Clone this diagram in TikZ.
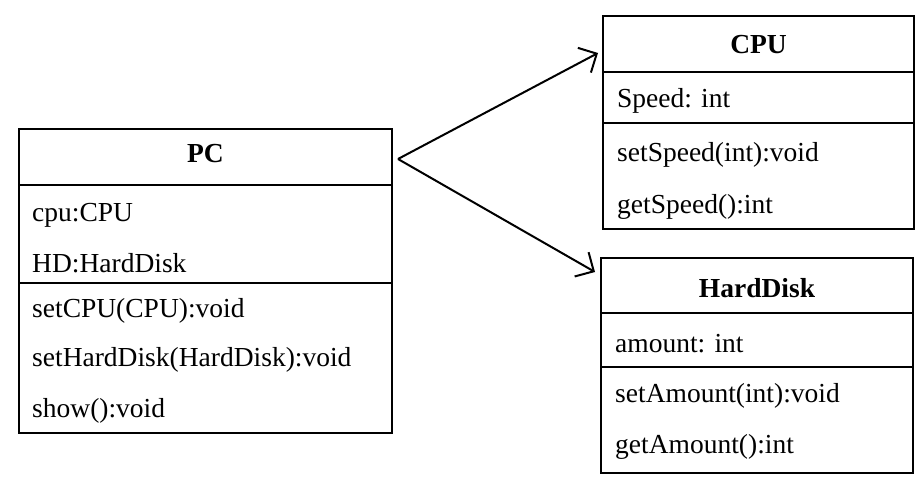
\documentclass[tikz,border=0pt]{standalone}
\usepackage{fontspec}
\setmainfont{Liberation Serif}
\usetikzlibrary{arrows.meta}
\begin{document}
\begin{tikzpicture}[x=1pt,y=-1pt,
  box/.style={draw=black,line width=2.8pt},
  sep/.style={draw=black,line width=2.8pt},
  title/.style={font=\fontsize{27.5}{32}\selectfont\bfseries,inner sep=0pt},
  item/.style={font=\fontsize{27.5}{32}\selectfont,anchor=west,inner sep=0pt,yshift=-3pt},
  arr/.style={draw=black,line width=2pt,-{Straight Barb[length=14pt,width=28pt,line width=2pt]}}]
\useasboundingbox (0,0) rectangle (921,479);
% PC
\draw[box] (19,129) rectangle (392,433);
\draw[sep] (19,185) -- (392,185);
\draw[sep] (19,283) -- (392,283);
\node[title] (pc) at (205.5,154) {PC};
\node[item] (pc1) at (32,212) {cpu:CPU};
\node[item] (pc2) at (32,260) {HD:HardDisk};
\node[item] (pc3) at (32,308) {setCPU(CPU):void};
\node[item] (pc4) at (32,357) {setHardDisk(HardDisk):void};
\node[item] (pc5) at (32,408) {show():void};
% CPU
\draw[box] (603,16) rectangle (914,229);
\draw[sep] (603,72) -- (914,72);
\draw[sep] (603,123) -- (914,123);
\node[title] (cpu) at (758.5,45) {CPU};
\node[item] (cpu1) at (617,98) {Speed: int};
\node[item] (cpu2) at (617,152) {setSpeed(int):void};
\node[item] (cpu3) at (617,204) {getSpeed():int};
% HardDisk
\draw[box] (601,258) rectangle (913,473);
\draw[sep] (601,313) -- (913,313);
\draw[sep] (601,367) -- (913,367);
\node[title] (hd) at (757,288) {HardDisk};
\node[item] (hd1) at (615,341) {amount: int};
\node[item] (hd2) at (615,393) {setAmount(int):void};
\node[item] (hd3) at (615,444) {getAmount():int};
% connectors
\coordinate (pcport) at (398,159);
\coordinate (cputip) at (598,53);
\coordinate (hdtip) at (595,272);
\draw[arr] (pcport) -- (cputip);
\draw[arr] (pcport) -- (hdtip);
\end{tikzpicture}
\end{document}
